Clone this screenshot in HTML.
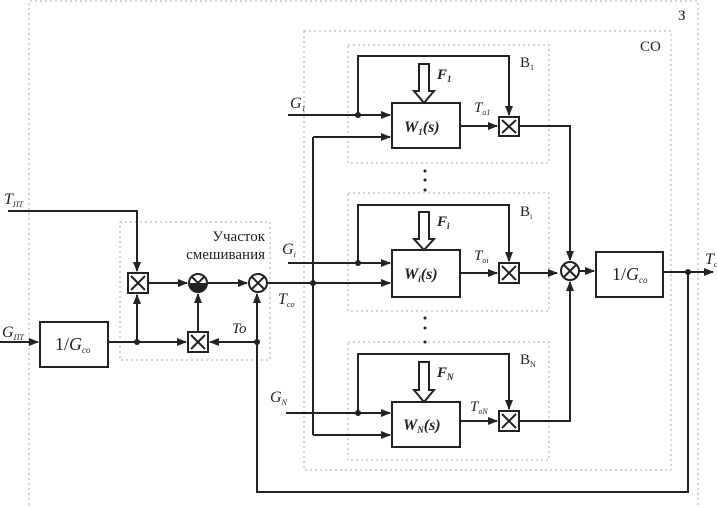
<!DOCTYPE html>
<html><head><meta charset="utf-8"><style>
html,body{margin:0;padding:0;background:#fff;}
svg{display:block;}
text{font-family:"Liberation Serif",serif;fill:#222;}
</style></head><body>
<svg width="717" height="508" viewBox="0 0 717 508" xmlns="http://www.w3.org/2000/svg">
<defs>
<marker id="a" markerWidth="10" markerHeight="8" refX="9" refY="4" orient="auto" markerUnits="userSpaceOnUse">
<path d="M0,0 L10,4 L0,8 Z" fill="#222"/></marker>
</defs>
<g fill="none" stroke="#aaa" stroke-width="1" stroke-dasharray="2,3">
<path d="M29,510 L29,1 L698,1 L698,510"/>
<rect x="304" y="31" width="367" height="439"/>
<rect x="348" y="45" width="201" height="118"/>
<rect x="348" y="193" width="201" height="118"/>
<rect x="348" y="342" width="201" height="118"/>
<rect x="120" y="222" width="150" height="138"/>
</g>
<text x="678" y="20" font-size="15">З</text>
<text x="640" y="51" font-size="15">CO</text>
<text x="520" y="67" font-size="15">B<tspan font-size="8" dy="3">1</tspan></text>
<text x="520" y="216" font-size="15">B<tspan font-size="8" dy="3">i</tspan></text>
<text x="520" y="364" font-size="15">B<tspan font-size="8" dy="3">N</tspan></text>
<text x="265" y="241" font-size="15" text-anchor="end">Участок</text>
<text x="265" y="259" font-size="15" text-anchor="end">смешивания</text>
<g stroke="#222" stroke-width="2" fill="none">
<!-- block 1 -->
<rect x="392" y="103" width="68" height="45"/>
<path d="M288,115 L390,115" marker-end="url(#a)"/>
<path d="M358,115 L358,56 L509,56 L509,115" marker-end="url(#a)"/>
<path d="M313,137 L390,137" marker-end="url(#a)"/>
<path d="M460,126 L497,126" marker-end="url(#a)"/>
<rect x="499" y="117" width="20" height="19"/>
<path d="M519,126 L570,126 L570,260" marker-end="url(#a)"/>
<!-- block i -->
<rect x="392" y="250" width="68" height="47"/>
<path d="M288,263 L390,263" marker-end="url(#a)"/>
<path d="M358,263 L358,205 L509,205 L509,261" marker-end="url(#a)"/>
<path d="M268,283 L390,283" marker-end="url(#a)"/>
<path d="M460,273 L497,273" marker-end="url(#a)"/>
<rect x="499" y="263" width="20" height="20"/>
<path d="M519,273 L557,273" marker-end="url(#a)"/>
<!-- block N -->
<rect x="392" y="402" width="68" height="45"/>
<path d="M286,413 L390,413" marker-end="url(#a)"/>
<path d="M358,413 L358,354 L509,354 L509,409" marker-end="url(#a)"/>
<path d="M313,435 L390,435" marker-end="url(#a)"/>
<path d="M460,421 L497,421" marker-end="url(#a)"/>
<rect x="499" y="411" width="20" height="20"/>
<path d="M519,421 L570,421 L570,282" marker-end="url(#a)"/>
<path d="M313,137 L313,435"/>
<!-- sum & output -->
<circle cx="570" cy="271" r="9"/>
<path d="M564,265 L576,277 M576,265 L564,277"/>
<path d="M579,271 L594,271" marker-end="url(#a)"/>
<rect x="596" y="252" width="67" height="45"/>
<path d="M663,272 L713,272" marker-end="url(#a)"/>
<path d="M688,272 L688,492 L257,492 L257,294" marker-end="url(#a)"/>
<!-- mixing -->
<path d="M8,211 L137,211 L137,271" marker-end="url(#a)"/>
<rect x="128" y="273" width="20" height="20"/>
<path d="M148,283 L187,283" marker-end="url(#a)"/>
<circle cx="198" cy="283" r="9"/>
<path d="M207,283 L247,283" marker-end="url(#a)"/>
<circle cx="258" cy="283" r="9"/>
<path d="M252,277 L264,289 M264,277 L252,289"/>
<path d="M0,342 L38,342" marker-end="url(#a)"/>
<rect x="40" y="322" width="68" height="45"/>
<path d="M108,342 L186,342" marker-end="url(#a)"/>
<path d="M137,342 L137,295" marker-end="url(#a)"/>
<rect x="188" y="332" width="20" height="20"/>
<path d="M198,332 L198,294" marker-end="url(#a)"/>
<path d="M257,342 L210,342" marker-end="url(#a)"/>
</g>
<g stroke="#222" stroke-width="2">
<path d="M131,276 L145,290 M145,276 L131,290"/>
<path d="M191,335 L205,349 M205,335 L191,349"/>
<path d="M502,120 L516,133 M516,120 L502,133"/>
<path d="M502,266 L516,280 M516,266 L502,280"/>
<path d="M502,414 L516,428 M516,414 L502,428"/>
<path d="M192,277 L204,289 M204,277 L192,289"/>
</g>
<path d="M189,283 A9,9 0 0 0 207,283 Z" fill="#222"/>
<!-- hollow arrows F -->
<g fill="#fff" stroke="#222" stroke-width="2">
<path d="M419,64 L429,64 L429,91 L434,91 L424,103 L414,91 L419,91 Z"/>
<path d="M419,212 L429,212 L429,239 L434,239 L424,250 L414,239 L419,239 Z"/>
<path d="M419,362 L429,362 L429,390 L434,390 L424,402 L414,390 L419,390 Z"/>
</g>
<g fill="#222">
<circle cx="358" cy="115" r="3"/><circle cx="358" cy="263" r="3"/><circle cx="358" cy="413" r="3"/>
<circle cx="313" cy="283" r="3"/><circle cx="688" cy="272" r="3"/>
<circle cx="137" cy="342" r="3"/><circle cx="257" cy="342" r="3"/>
<circle cx="425" cy="171" r="1.5"/><circle cx="425" cy="180" r="1.5"/><circle cx="425" cy="190" r="1.5"/>
<circle cx="425" cy="318" r="1.5"/><circle cx="425" cy="328" r="1.5"/><circle cx="425" cy="342" r="1.5"/>
</g>
<g font-style="italic">
<text x="404" y="132" font-size="16" font-weight="bold">W<tspan font-size="9" dy="3">1</tspan><tspan dy="-3">(s)</tspan></text>
<text x="404" y="279" font-size="16" font-weight="bold">W<tspan font-size="9" dy="3">i</tspan><tspan dy="-3">(s)</tspan></text>
<text x="403" y="430" font-size="16" font-weight="bold">W<tspan font-size="9" dy="3">N</tspan><tspan dy="-3">(s)</tspan></text>
<text x="437" y="79" font-size="15" font-weight="bold">F<tspan font-size="9" dy="3">1</tspan></text>
<text x="437" y="226" font-size="15" font-weight="bold">F<tspan font-size="9" dy="3">i</tspan></text>
<text x="437" y="377" font-size="15" font-weight="bold">F<tspan font-size="9" dy="3">N</tspan></text>
<text x="474" y="112" font-size="15">T<tspan font-size="8" dy="3">o1</tspan></text>
<text x="474" y="260" font-size="15">T<tspan font-size="8" dy="3">oi</tspan></text>
<text x="470" y="411" font-size="15">T<tspan font-size="8" dy="3">oN</tspan></text>
<text x="290" y="108" font-size="16">G<tspan font-size="8" dy="3">1</tspan></text>
<text x="282" y="254" font-size="16">G<tspan font-size="8" dy="3">i</tspan></text>
<text x="270" y="402" font-size="16">G<tspan font-size="8" dy="3">N</tspan></text>
<text x="278" y="304" font-size="16">T<tspan font-size="8" dy="3">co</tspan></text>
<text x="4" y="204" font-size="16">T<tspan font-size="8" dy="3">ПТ</tspan></text>
<text x="2" y="337" font-size="16">G<tspan font-size="8" dy="3">ПТ</tspan></text>
<text x="232" y="333" font-size="15">To</text>
<text x="705" y="264" font-size="16">T<tspan font-size="8" dy="3">c</tspan></text>
</g>
<text x="55" y="350" font-size="18">1/<tspan font-style="italic">G</tspan><tspan font-size="9" dy="3" font-style="italic">co</tspan></text>
<text x="612" y="280" font-size="18">1/<tspan font-style="italic">G</tspan><tspan font-size="9" dy="3" font-style="italic">co</tspan></text>
</svg>
</body></html>
